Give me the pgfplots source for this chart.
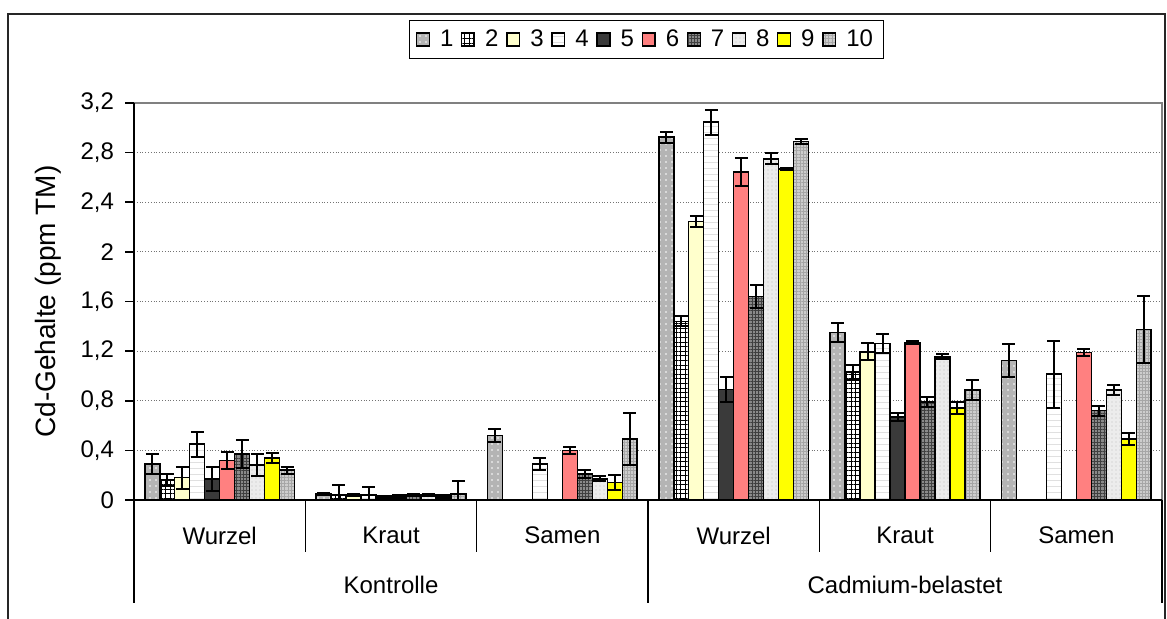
\documentclass[border=0pt]{standalone}
\usepackage{fontspec}
\setmainfont{Liberation Sans}
\usepackage{pgfplots}
\pgfplotsset{compat=1.18}
\usetikzlibrary{patterns.meta}

\definecolor{cA}{HTML}{B4B4B4}
\definecolor{cC}{HTML}{FFFFCC}
\definecolor{cE}{HTML}{3A3A3A}
\definecolor{cF}{HTML}{FF8080}
\definecolor{cG}{HTML}{8A8A8A}
\definecolor{cH}{HTML}{ECECEC}
\definecolor{cI}{HTML}{FFFF00}
\definecolor{cJ}{HTML}{CDCDCD}

\begin{document}
\begin{tikzpicture}
\useasboundingbox (0,0) rectangle (583.5pt,309pt);
% outer chart frame
\draw[black!85, line width=1pt] (4pt,-20pt) -- (4pt,302pt) -- (582.3pt,302pt) -- (582.3pt,-20pt);

\begin{axis}[
    at={(67pt,59pt)}, anchor=south west,
    scale only axis,
    width=514pt, height=198.5pt,
    xmin=0, xmax=6,
    ymin=0, ymax=3.2,
    ybar=0pt, bar width=0.0875,
    clip=false,
    axis line style={draw=none},
    xtick=\empty,
    ytick={0,0.4,0.8,1.2,1.6,2,2.4,2.8,3.2},
    ytick pos=left,
    tick align=outside,
    major tick length=4.5pt,
    ytick style={black, line width=0.8pt},
    /pgf/number format/.cd, use comma, assume math mode=true, /pgfplots/.cd,
    yticklabel style={font=\fontsize{12}{14}\selectfont, xshift=-2pt},
    ymajorgrids,
    major grid style={densely dotted, black!55, line width=0.6pt},
    ylabel={Cd-Gehalte (ppm TM)},
    every axis y label/.style={at={(axis description cs:-0.0837,0.5)}, rotate=90, anchor=center, font=\fontsize{14}{16}\selectfont},
    every axis plot/.append style={draw=black, line width=0.8pt},
    error bars/y dir=both, error bars/y explicit,
    error bars/error bar style={black, line width=1pt, solid},
    error bars/error mark options={rotate=90, mark size=3.2pt, black, line width=1pt},
    legend image code/.code={\draw[#1, line width=0.7pt] (0pt,-3.2pt) rectangle (6.4pt,3.2pt);},
    legend style={at={(0.4985,1.16)}, anchor=center, legend columns=10,
        draw=black, line width=0.5pt, font=\fontsize{12}{14}\selectfont,
        inner xsep=3pt, inner ysep=2.5pt,
        /tikz/every odd column/.append style={column sep=3pt},
        /tikz/every even column/.append style={column sep=1.8pt}},
]

\addplot[fill=cA, postaction={pattern={Dots[distance=3pt,radius=0.4pt]}, pattern color=white}]
  coordinates {(0.5,0.29) +- (0,0.08) (1.5,0.05) +- (0,0.01) (2.5,0.52) +- (0,0.05)
               (3.5,2.925) +- (0,0.045) (4.5,1.35) +- (0,0.08) (5.5,1.125) +- (0,0.13)};
\addlegendentry{1}
\addplot[fill=white, postaction={pattern={Hatch[distance=2.3pt,line width=0.45pt]}, pattern color=black}]
  coordinates {(0.5,0.16) +- (0,0.05) (1.5,0.04) += (0,0.08) -= (0,0.04)
               (3.5,1.44) +- (0,0.04) (4.5,1.03) +- (0,0.06)};
\addlegendentry{2}
\addplot[fill=cC]
  coordinates {(0.5,0.18) +- (0,0.09) (1.5,0.04) +- (0,0.01)
               (3.5,2.245) +- (0,0.045) (4.5,1.195) +- (0,0.07)};
\addlegendentry{3}
\addplot[fill=white, postaction={pattern={Lines[distance=3pt,line width=0.3pt]}, pattern color=black!12}]
  coordinates {(0.5,0.45) +- (0,0.10) (1.5,0.04) += (0,0.065) -= (0,0.04) (2.5,0.29) +- (0,0.05)
               (3.5,3.045) +- (0,0.10) (4.5,1.26) +- (0,0.075) (5.5,1.015) +- (0,0.27)};
\addlegendentry{4}
\addplot[fill=cE]
  coordinates {(0.5,0.17) +- (0,0.10) (1.5,0.02) +- (0,0.01)
               (3.5,0.89) +- (0,0.10) (4.5,0.67) +- (0,0.03)};
\addlegendentry{5}
\addplot[fill=cF]
  coordinates {(0.5,0.32) +- (0,0.07) (1.5,0.03) +- (0,0.01) (2.5,0.40) +- (0,0.03)
               (3.5,2.645) +- (0,0.11) (4.5,1.27) +- (0,0.01) (5.5,1.19) +- (0,0.03)};
\addlegendentry{6}
\addplot[fill=cG, postaction={pattern={Hatch[distance=1.6pt,line width=0.45pt]}, pattern color=black!75}]
  coordinates {(0.5,0.37) +- (0,0.11) (1.5,0.04) +- (0,0.01) (2.5,0.21) +- (0,0.03)
               (3.5,1.64) +- (0,0.09) (4.5,0.79) +- (0,0.04) (5.5,0.72) +- (0,0.04)};
\addlegendentry{7}
\addplot[fill=cH, postaction={pattern={Dots[distance=2pt,radius=0.3pt]}, pattern color=black!25}]
  coordinates {(0.5,0.28) +- (0,0.09) (1.5,0.04) +- (0,0.01) (2.5,0.17) +- (0,0.02)
               (3.5,2.75) +- (0,0.045) (4.5,1.155) +- (0,0.02) (5.5,0.887) +- (0,0.04)};
\addlegendentry{8}
\addplot[fill=cI]
  coordinates {(0.5,0.34) +- (0,0.04) (1.5,0.03) +- (0,0.01) (2.5,0.14) +- (0,0.06)
               (3.5,2.67) +- (0,0.01) (4.5,0.74) +- (0,0.05) (5.5,0.49) +- (0,0.05)};
\addlegendentry{9}
\addplot[fill=cJ, postaction={pattern={Hatch[distance=1.6pt,line width=0.4pt]}, pattern color=black!35}]
  coordinates {(0.5,0.24) +- (0,0.03) (1.5,0.05) += (0,0.10) -= (0,0.05) (2.5,0.49) +- (0,0.21)
               (3.5,2.89) +- (0,0.02) (4.5,0.885) +- (0,0.08) (5.5,1.375) +- (0,0.27)};
\addlegendentry{10}

% plot area border and axes
\draw[black!50, line width=1pt] (rel axis cs:0,1) -- (rel axis cs:1,1) -- (rel axis cs:1,0);
\draw[black, line width=1pt] (rel axis cs:0,1) -- (rel axis cs:0,0) -- (rel axis cs:1,0);

% category separators
\pgfplotsinvokeforeach{1,2,4,5}{\draw[black, line width=0.7pt] (axis cs:#1,0) -- ++(0,-26pt);}
\pgfplotsinvokeforeach{0,3,6}{\draw[black, line width=0.7pt] (axis cs:#1,0) -- ++(0,-51.5pt);}

% category labels
\node[font=\fontsize{12}{14}\selectfont] at ([yshift=-17.8pt]axis cs:0.5,0) {Wurzel};
\node[font=\fontsize{12}{14}\selectfont] at ([yshift=-17.8pt]axis cs:1.5,0) {Kraut};
\node[font=\fontsize{12}{14}\selectfont] at ([yshift=-17.8pt]axis cs:2.5,0) {Samen};
\node[font=\fontsize{12}{14}\selectfont] at ([yshift=-17.8pt]axis cs:3.5,0) {Wurzel};
\node[font=\fontsize{12}{14}\selectfont] at ([yshift=-17.8pt]axis cs:4.5,0) {Kraut};
\node[font=\fontsize{12}{14}\selectfont] at ([yshift=-17.8pt]axis cs:5.5,0) {Samen};
\node[font=\fontsize{12}{14}\selectfont] at ([yshift=-42.5pt]axis cs:1.5,0) {Kontrolle};
\node[font=\fontsize{12}{14}\selectfont] at ([yshift=-42.5pt]axis cs:4.5,0) {Cadmium-belastet};
\end{axis}
\end{tikzpicture}
\end{document}
